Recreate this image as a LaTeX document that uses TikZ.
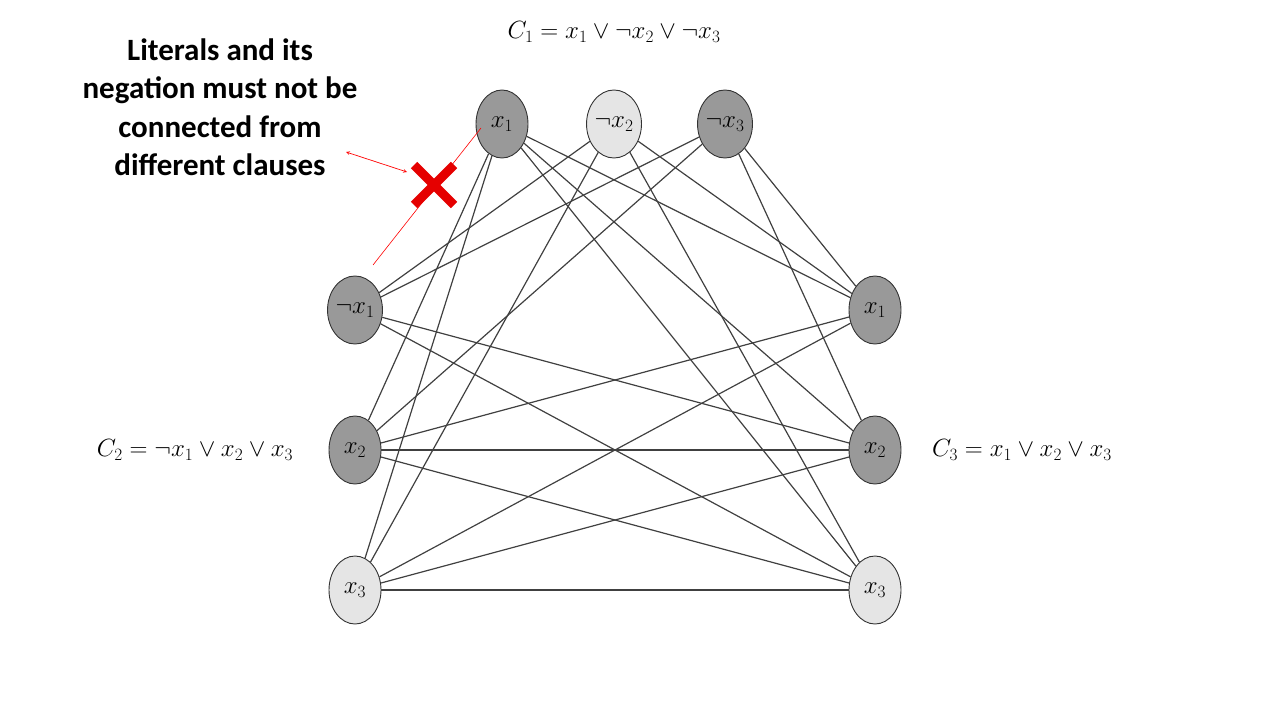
\documentclass[tikz,border=0pt]{standalone}
\usepackage{fontspec}
\usetikzlibrary{shapes.geometric,calc}
\newfontfamily\carlitofont{Carlito}
\begin{document}
\begin{tikzpicture}[x=1pt,y=-1pt,
  lit/.style={ellipse,draw=black!80,line width=0.9pt,minimum width=52pt,minimum height=68pt,inner sep=0pt,font=\fontsize{26}{28}\selectfont},
  dk/.style={lit,fill=black!40},
  lt/.style={lit,fill=black!10},
  ed/.style={draw=black!75,line width=1.2pt},
  eq/.style={font=\fontsize{26}{28}\selectfont}]
\useasboundingbox (0,0) rectangle (1280,720);
\node[dk] (a1) at (502,124) {$x_1$};
\node[lt] (a2) at (614,124) {$\neg x_2$};
\node[dk] (a3) at (725,124) {$\neg x_3$};
\node[dk] (b1) at (355,310) {$\neg x_1$};
\node[dk] (b2) at (355,450) {$x_2$};
\node[lt] (b3) at (355,590) {$x_3$};
\node[dk] (c1) at (875,310) {$x_1$};
\node[dk] (c2) at (875,450) {$x_2$};
\node[lt] (c3) at (875,590) {$x_3$};
\foreach \p/\q in {a1/b2,a1/b3,a2/b1,a2/b3,a3/b1,a3/b2,
  a1/c1,a1/c2,a1/c3,a2/c1,a2/c3,a3/c1,a3/c2,
  b1/c2,b1/c3,b2/c1,b2/c2,b2/c3,b3/c1,b3/c2,b3/c3}
  \draw[ed] (\p) -- (\q);
\node[eq] (e1) at (614,32) {$C_1=x_1\vee\neg x_2\vee\neg x_3$};
\node[eq] (e2) at (195,450) {$C_2=\neg x_1\vee x_2\vee x_3$};
\node[eq] (e3) at (1022,450) {$C_3=x_1\vee x_2\vee x_3$};
\node[font=\carlitofont\bfseries\fontsize{31}{38.5}\selectfont,align=center] (t) at (220,107)
  {Literals and its\\negation must not be\\connected from\\different clauses};
\coordinate (r0) at (373,265);
\coordinate (r1) at (481,128);
\draw[red,line width=0.6pt] (r0) -- (r1);
\coordinate (s0) at (346,152);
\coordinate (s1) at (407,172);
\draw[red,line width=0.7pt,<->,>=stealth] (s0) -- (s1);
\coordinate (xc) at (434,185);
\draw[red!90!black,line width=9pt] ($(xc)+(-20,-20)$) -- ($(xc)+(20,20)$);
\draw[red!90!black,line width=9pt] ($(xc)+(20,-20)$) -- ($(xc)+(-20,20)$);
\end{tikzpicture}
\end{document}
